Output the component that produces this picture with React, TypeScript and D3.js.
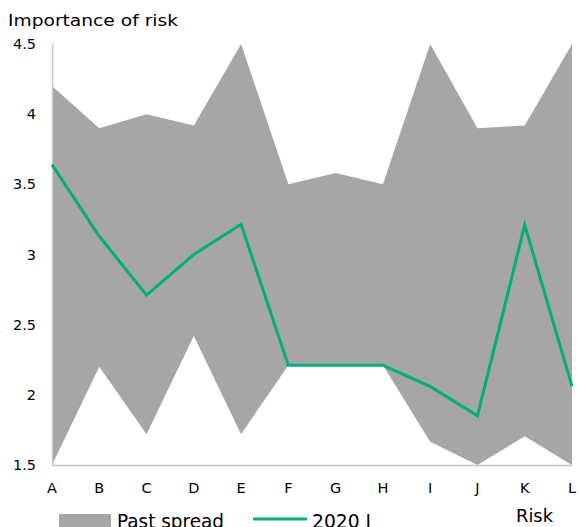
import React from "react";
import * as d3 from "d3";

// Risk categories along the x axis
const risks = ["A", "B", "C", "D", "E", "F", "G", "H", "I", "J", "K", "L"];
// Historical range of each risk's importance
const spreadHigh = [4.2, 3.9, 4.0, 3.92, 4.5, 3.5, 3.58, 3.5, 4.5, 3.9, 3.92, 4.5];
const spreadLow = [1.5, 2.2, 1.72, 2.42, 1.72, 2.21, 2.21, 2.21, 1.665, 1.5, 1.705, 1.5];
// Latest survey round
const current = [3.64, 3.13, 2.71, 3.0, 3.215, 2.21, 2.21, 2.21, 2.06, 1.85, 3.21, 2.06];
const yTicks = [1.5, 2, 2.5, 3, 3.5, 4, 4.5];

const W = 580;
const H = 527;
const FONT = "Verdana, 'DejaVu Sans', sans-serif";

export default function App() {
  const x = d3.scalePoint<string>().domain(risks).range([52, 572]);
  const y = d3.scaleLinear().domain([1.5, 4.5]).range([465, 44]);

  const rows = risks.map((r, i) => ({ r, hi: spreadHigh[i], lo: spreadLow[i], v: current[i] }));

  const area = d3
    .area<(typeof rows)[number]>()
    .x((d) => x(d.r)!)
    .y0((d) => y(d.lo))
    .y1((d) => y(d.hi));

  const line = d3
    .line<(typeof rows)[number]>()
    .x((d) => x(d.r)!)
    .y((d) => y(d.v));

  return (
    <svg
      width={W}
      height={H}
      style={{ position: "absolute", left: 0, top: 0, fontFamily: FONT }}
    >
      <rect width={W} height={H} fill="#ffffff" />
      <text x={8} y={26} fontSize={16} fill="#000" textLength={170} lengthAdjust="spacingAndGlyphs">
        Importance of risk
      </text>

      <path d={area(rows)!} fill="#a6a6a6" />

      {/* axes */}
      <line x1={52.5} x2={52.5} y1={44} y2={465} stroke="#c8c8c8" strokeWidth={1.5} />
      <line x1={52} x2={572} y1={465.5} y2={465.5} stroke="#c8c8c8" strokeWidth={1.5} />

      {yTicks.map((t) => (
        <text
          key={t}
          x={36}
          y={y(t)}
          dy="0.35em"
          textAnchor="end"
          fontSize={14.5}
          fill="#000"
        >
          {String(t)}
        </text>
      ))}

      {risks.map((r) => (
        <text
          key={r}
          x={x(r)!}
          y={487.5}
          dy="0.35em"
          textAnchor="middle"
          fontSize={14.5}
          fill="#000"
        >
          {r}
        </text>
      ))}

      <path d={line(rows)!} fill="none" stroke="#00b07a" strokeWidth={3} strokeLinejoin="miter" />

      {/* legend */}
      <rect x={59} y={514} width={52} height={13} fill="#a6a6a6" />
      <text x={117} y={528} fontSize={20} fill="#000" textLength={107} lengthAdjust="spacingAndGlyphs">
        Past spread
      </text>
      <line x1={253} x2={307} y1={519} y2={519} stroke="#00b07a" strokeWidth={3} />
      <text x={312} y={528} fontSize={20} fill="#000" textLength={59} lengthAdjust="spacingAndGlyphs">
        2020 I
      </text>

      <text x={516} y={522} fontSize={17.5} fill="#000" textLength={37} lengthAdjust="spacingAndGlyphs">
        Risk
      </text>
    </svg>
  );
}
